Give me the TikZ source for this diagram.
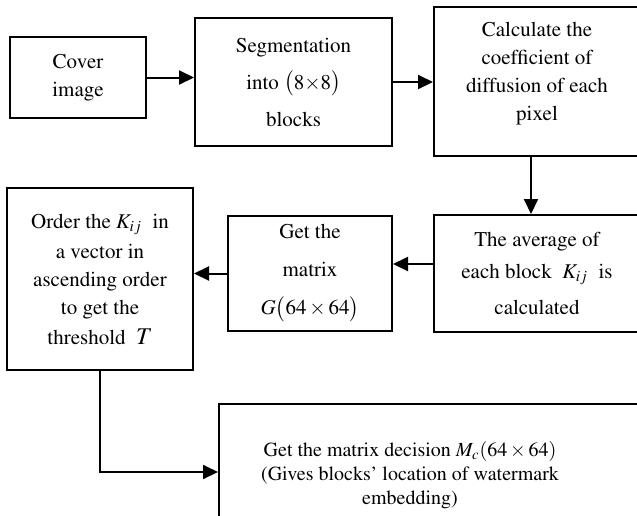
\documentclass[tikz,border=0pt]{standalone}
\usepackage{amsmath}
\usepackage[T1]{fontenc}
\usepackage{mathptmx}
\usetikzlibrary{arrows.meta}

\begin{document}
\begin{tikzpicture}[x=0.5pt, y=-0.5pt, every node/.style={font=\fontsize{10.5}{14}\selectfont}, >={Triangle[length=7.5pt, width=7pt]},
	stage/.style={draw, line width=1pt, align=center, inner sep=0pt},
	flow/.style={->, line width=1pt}]
	\useasboundingbox (0,0) rectangle (637,515);
	\node[stage, minimum width=68pt, minimum height=40.5pt] (cover) at (78,77.5) {Cover\\image};
	\node[stage, minimum width=98.5pt, minimum height=64pt] (seg) at (293.5,82) {Segmentation\\[4.5pt] into $\bigl(8{\times}8\bigr)$\\[4.5pt] blocks};
	\node[stage, minimum width=103pt, minimum height=74.5pt] (calc) at (537,81.5) {Calculate the\\coefficient of\\diffusion of each\\pixel\\[-4pt]\mbox{}};
	\node[stage, minimum width=103pt, minimum height=58.5pt] (avg) at (537,273.5) {The average of\\[2pt] each block\ \ $K_{ij}$\ \ is\\[4pt] calculated};
	\node[stage, minimum width=82pt, minimum height=57.5pt] (mat) at (310,273.5) {Get the\\[5pt] matrix\\[5pt] $G\bigl(64\times64\bigr)$};
	\node[stage, minimum width=93pt, minimum height=91pt] (order) at (100,279) {Order the $K_{ij}$\ \ in\\[1pt] a vector in\\ ascending order\\ to get the\\[1pt] threshold\ \ {\large$T$}};
	\node[stage, minimum width=215.5pt, minimum height=68pt] (dec) at (434.5,472) {};
	\node[align=center, font=\fontsize{10}{12}\selectfont] (dectext) at (410,475) {Get the matrix decision $M_c(64\times64)$\\ (Gives blocks' location of watermark\\ embedding)};
	\draw[flow] (cover.east) -- (cover.east -| seg.west);
	\draw[flow] (seg.east) -- (seg.east -| calc.west);
	\draw[flow] ([xshift=-3pt]calc.south) -- ([xshift=-3pt]avg.north);
	\draw[flow] ([yshift=4.75pt]avg.west) -- ([yshift=4.75pt]mat.east);
	\draw[flow] (mat.west) -- (mat.west -| order.east);
	\draw[flow] (order.south) |- (dec.west);
\end{tikzpicture}
\end{document}
